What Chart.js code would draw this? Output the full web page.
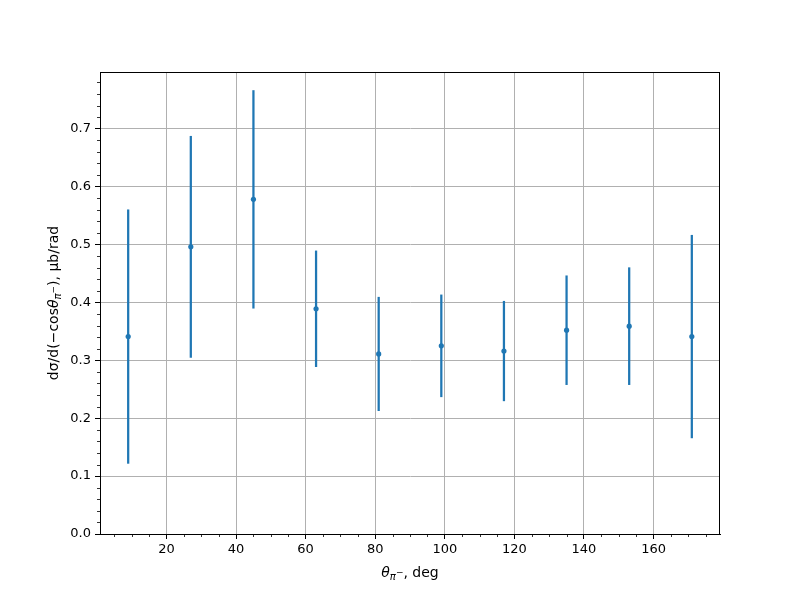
<!DOCTYPE html>
<html>
<head>
<meta charset="utf-8">
<script src="https://cdn.jsdelivr.net/npm/chart.js@4/dist/chart.umd.min.js"></script>
<style>
  html, body { margin: 0; padding: 0; background: #fff; }
  canvas { display: block; }
</style>
</head>
<body>
<canvas id="c" width="800" height="600"></canvas>
<script>
const theta = [9, 27, 45, 63, 81, 99, 117, 135, 153, 171];
const sigma = [0.341, 0.496, 0.578, 0.389, 0.311, 0.325, 0.316, 0.352, 0.359, 0.341];
const err   = [0.219, 0.191, 0.188, 0.100, 0.098, 0.088, 0.086, 0.094, 0.101, 0.175];
const xTicks = [20, 40, 60, 80, 100, 120, 140, 160];
const yTicks = [0.0, 0.1, 0.2, 0.3, 0.4, 0.5, 0.6, 0.7];

const BLUE = '#1f77b4';
const FONT = "'DejaVu Sans', sans-serif";

const pts = theta.map((t, i) => ({ x: t, y: sigma[i] }));
const bars = theta.map((t, i) => ({ x: t, y: [sigma[i] - err[i], sigma[i] + err[i]] }));

function drawRich(ctx, segs, x, y, rotate) {
  ctx.save();
  ctx.translate(x, y);
  if (rotate) ctx.rotate(-Math.PI / 2);
  ctx.textBaseline = 'alphabetic';
  ctx.fillStyle = '#000';
  let total = 0;
  segs.forEach(s => {
    ctx.font = (s.it ? 'italic ' : '') + s.sz + 'px ' + FONT;
    s.w = ctx.measureText(s.t).width;
    total += s.w;
  });
  let cx = -total / 2;
  segs.forEach(s => {
    ctx.font = (s.it ? 'italic ' : '') + s.sz + 'px ' + FONT;
    ctx.fillText(s.t, cx, s.dy || 0);
    cx += s.w;
  });
  ctx.restore();
}

const extras = {
  id: 'extras',
  afterDraw(chart) {
    const ctx = chart.ctx;
    const a = chart.chartArea;
    const xs = chart.scales.x, ys = chart.scales.y;
    ctx.save();
    // minor ticks
    ctx.strokeStyle = '#000';
    ctx.lineWidth = 0.8;
    ctx.beginPath();
    for (let v = 5; v < 179; v += 5) {
      if (v % 20 === 0) continue;
      const px = Math.round(xs.getPixelForValue(v)) + 0.5;
      ctx.moveTo(px, a.bottom);
      ctx.lineTo(px, a.bottom + 3);
    }
    for (let k = 1; k < 40; k++) {
      if (k % 5 === 0) continue;
      const v = k * 0.02;
      if (v > ys.max) break;
      const py = Math.round(ys.getPixelForValue(v)) + 0.5;
      ctx.moveTo(a.left, py);
      ctx.lineTo(a.left - 3, py);
    }
    ctx.stroke();
    // frame
    ctx.lineWidth = 1;
    ctx.strokeRect(a.left + 0.5, a.top + 0.5, a.right - a.left - 1, a.bottom - a.top);
    ctx.restore();
    // axis titles
    drawRich(ctx, [
      { t: 'θ', it: true, sz: 14 },
      { t: 'π', it: true, sz: 10, dy: 3 },
      { t: '−', it: false, sz: 9, dy: -2 },
      { t: ', deg', it: false, sz: 14 }
    ], (a.left + a.right) / 2, 577, false);
    drawRich(ctx, [
      { t: 'dσ/d(−cos', it: false, sz: 14 },
      { t: 'θ', it: true, sz: 14 },
      { t: 'π', it: true, sz: 10, dy: 3 },
      { t: '−', it: false, sz: 9, dy: -2 },
      { t: '), μb/rad', it: false, sz: 14 }
    ], 58, (a.top + a.bottom) / 2, true);
  }
};

new Chart(document.getElementById('c'), {
  data: {
    datasets: [
      {
        type: 'scatter',
        data: pts,
        backgroundColor: BLUE,
        borderColor: BLUE,
        pointRadius: 2.6,
        pointBorderWidth: 0,
        order: 0
      },
      {
        type: 'bar',
        data: bars,
        backgroundColor: BLUE,
        borderWidth: 0,
        barThickness: 1.6,
        grouped: false,
        order: 1
      }
    ]
  },
  options: {
    responsive: false,
    animation: false,
    devicePixelRatio: 1,
    layout: { padding: { top: 72, right: 80, left: 0, bottom: 0 } },
    plugins: { legend: { display: false }, tooltip: { enabled: false } },
    scales: {
      x: {
        type: 'linear',
        offset: false,
        min: 0.9,
        max: 179.1,
        afterFit(s) { s.height = 66; },
        afterBuildTicks(s) { s.ticks = xTicks.map(v => ({ value: v })); },
        grid: { color: '#b0b0b0', lineWidth: 1, offset: false, tickColor: '#000', tickLength: 5, tickWidth: 1 },
        border: { display: true, color: '#000', width: 1 },
        ticks: { color: '#000', font: { family: FONT, size: 13 }, padding: 3, maxRotation: 0, callback: v => String(v) }
      },
      y: {
        type: 'linear',
        min: 0,
        max: 0.798,
        afterFit(s) { s.width = 100; },
        afterBuildTicks(s) { s.ticks = yTicks.map(v => ({ value: v })); },
        grid: { color: '#b0b0b0', lineWidth: 1, tickColor: '#000', tickLength: 5, tickWidth: 1 },
        border: { display: true, color: '#000', width: 1 },
        ticks: { color: '#000', font: { family: FONT, size: 13 }, padding: 4, callback: v => Number(v).toFixed(1) }
      }
    }
  },
  plugins: [extras]
});
</script>
</body>
</html>
